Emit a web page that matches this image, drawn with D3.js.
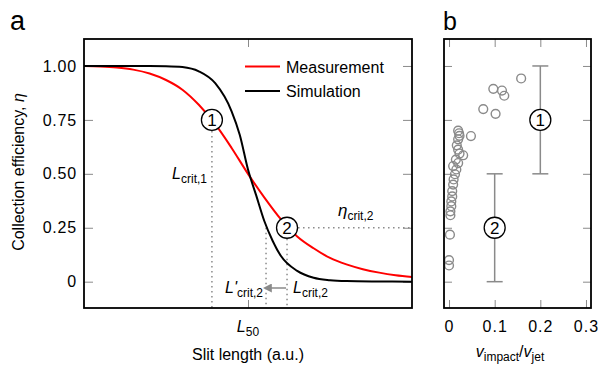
<!DOCTYPE html>
<html>
<head>
<meta charset="utf-8">
<script src="https://cdn.jsdelivr.net/npm/d3@7/dist/d3.min.js"></script>
<style>
  html, body { margin: 0; padding: 0; background: #fff; }
  svg text { font-family: "Liberation Sans", Arial, Helvetica, sans-serif; fill: #000; }
</style>
</head>
<body>
<svg id="fig" width="598" height="366"></svg>
<script>
// ---- Panel a: collection efficiency vs slit length (arbitrary units) ----
const slitLength   = [0, 0.5, 1, 1.5, 2, 2.5, 3, 3.5, 4, 4.5, 5, 5.5, 6, 6.5, 7, 7.5, 8, 8.5, 9, 9.5, 10];
const measurement  = [1.000, 0.998, 0.993, 0.983, 0.965, 0.935, 0.890, 0.820, 0.730, 0.620, 0.500, 0.390, 0.290, 0.210, 0.155, 0.110, 0.080, 0.058, 0.042, 0.030, 0.022];
const simLength    = [0, 1, 2, 2.5, 3, 3.5, 4, 4.5, 4.75, 5, 5.25, 5.5, 5.75, 6, 6.5, 7, 7.5, 8, 9, 10];
const simulation   = [1.000, 1.000, 1.000, 0.999, 0.995, 0.975, 0.920, 0.790, 0.680, 0.520, 0.400, 0.280, 0.190, 0.120, 0.050, 0.018, 0.007, 0.003, 0.001, 0.000];
const etaTicks     = [0, 0.25, 0.5, 0.75, 1];
const L50          = 5;
const Lcrit1       = 3.9;   // where measurement reaches eta = 0.75
const Lcrit2       = 6.19;  // where measurement reaches eta = 0.25
const LcritPrime2  = 5.55;  // where simulation reaches eta = 0.25
const etaCrit1     = 0.75;
const etaCrit2     = 0.25;

// ---- Panel b: efficiency vs impact/jet velocity ratio ----
const velocityTicks = [0, 0.1, 0.2, 0.3];
const velocityRatio = [0.158, 0.097, 0.116, 0.121, 0.075, 0.102, 0.048,
  0.020, 0.022, 0.023, 0.020, 0.017, 0.020, 0.023, 0.031, 0.015, 0.020, 0.009, 0.016, 0.013,
  0.010, 0.009, 0.007, 0.007, 0.005, 0.005, 0.003, 0.003,
  0.002, 0.000, 0.000];
const efficiencyB = [0.942, 0.894, 0.886, 0.862, 0.800, 0.778, 0.675,
  0.700, 0.688, 0.676, 0.660, 0.632, 0.612, 0.594, 0.586, 0.566, 0.550, 0.536, 0.520, 0.498,
  0.474, 0.450, 0.420, 0.395, 0.372, 0.350, 0.326, 0.308,
  0.218, 0.100, 0.075];
// regime ranges: [label, velocity ratio, eta low, eta mid, eta high]
const regimes = [["1", 0.2, 0.5, 0.75, 1.0], ["2", 0.1, 0.0, 0.25, 0.5]];

const svg = d3.select("#fig");
const grey = "#8a8a8a";

// shared vertical scale (both panels share the eta range)
const yA = d3.scaleLinear().domain([-0.122, 1.125]).range([308, 39]);
const xA = d3.scaleLinear().domain([0, 10]).range([84, 412]);
const xB = d3.scaleLinear().domain([-0.011, 0.311]).range([444, 591]);

svg.append("defs").append("marker")
  .attr("id", "arrowhead").attr("viewBox", "0 0 10 10")
  .attr("refX", 2).attr("refY", 5).attr("markerWidth", 6).attr("markerHeight", 6)
  .attr("orient", "auto")
  .append("path").attr("d", "M0,0 L10,5 L0,10 z").attr("fill", grey);

svg.append("defs").append("clipPath").attr("id", "clipA")
  .append("rect").attr("x", 84).attr("y", 39).attr("width", 328).attr("height", 269);

function styleTicks(g) {
  g.select(".domain").remove();
  g.selectAll(".tick line").attr("stroke", grey).attr("stroke-width", 1);
}

// subscripted label helper: italic main symbol + subscript
function subLabel(sel, main, sub, italicMain, size, subSize) {
  sel.append("tspan").attr("font-style", italicMain ? "italic" : "normal")
    .attr("font-size", size).text(main);
  sel.append("tspan").attr("font-size", subSize).attr("dy", 4).text(sub);
  return sel;
}

// ======== Panel a ========
const gA = svg.append("g");

gA.append("g").attr("transform", "translate(84,0)")
  .call(d3.axisLeft(yA).tickValues(etaTicks)
    .tickFormat(d => d === 0 ? "0" : d3.format(".2f")(d))
    .tickSizeInner(-9).tickSizeOuter(0).tickPadding(7))
  .call(styleTicks)
  .call(g => g.selectAll("text").attr("font-size", 16).attr("letter-spacing", 0.8)
    .style("font-family", "'Liberation Sans', Arial, sans-serif"));

gA.append("g").attr("transform", "translate(412,0)")
  .call(d3.axisRight(yA).tickValues(etaTicks).tickFormat("").tickSizeInner(-9).tickSizeOuter(0))
  .call(styleTicks);

gA.append("g").attr("transform", "translate(0,308)")
  .call(d3.axisBottom(xA).tickValues([L50]).tickFormat("").tickSizeInner(-8).tickSizeOuter(0))
  .call(styleTicks);
gA.append("g").attr("transform", "translate(0,39)")
  .call(d3.axisTop(xA).tickValues([L50]).tickFormat("").tickSizeInner(-8).tickSizeOuter(0))
  .call(styleTicks);

// dotted guides
const dotted = (x1, y1, x2, y2) => gA.append("line")
  .attr("x1", x1).attr("y1", y1).attr("x2", x2).attr("y2", y2)
  .attr("stroke", grey).attr("stroke-width", 1.5).attr("stroke-dasharray", "1.5,3.5");
dotted(xA(Lcrit1), yA(etaCrit1) + 11, xA(Lcrit1), 308);
dotted(xA(Lcrit2), yA(etaCrit2) + 11, xA(Lcrit2), 308);
dotted(xA(LcritPrime2), yA(etaCrit2), xA(LcritPrime2), 308);
dotted(xA(Lcrit2) + 11, yA(etaCrit2), 412, yA(etaCrit2));

// curves
const curves = gA.append("g").attr("clip-path", "url(#clipA)");
const lineA = d3.line().curve(d3.curveMonotoneX);
curves.append("path")
  .attr("d", lineA(slitLength.map((l, i) => [xA(l), yA(measurement[i])])))
  .attr("fill", "none").attr("stroke", "#ff0000").attr("stroke-width", 2);
curves.append("path")
  .attr("d", lineA(simLength.map((l, i) => [xA(l), yA(simulation[i])])))
  .attr("fill", "none").attr("stroke", "#000").attr("stroke-width", 2);

// arrow from L_crit,2 to L'_crit,2
gA.append("line")
  .attr("x1", xA(Lcrit2) - 1).attr("y1", 288)
  .attr("x2", xA(LcritPrime2) + 4).attr("y2", 288)
  .attr("stroke", grey).attr("stroke-width", 1.5).attr("marker-end", "url(#arrowhead)");

// numbered markers
function numbered(g, cx, cy, label) {
  g.append("circle").attr("cx", cx).attr("cy", cy).attr("r", 10.5)
    .attr("fill", "#fff").attr("stroke", "#000").attr("stroke-width", 1.3);
  g.append("text").attr("x", cx).attr("y", cy + 6).attr("text-anchor", "middle")
    .attr("font-size", 17).text(label);
}
numbered(gA, xA(Lcrit1), yA(etaCrit1), "1");
numbered(gA, xA(Lcrit2), yA(etaCrit2), "2");

// frame
gA.append("rect").attr("x", 84).attr("y", 39).attr("width", 328).attr("height", 269)
  .attr("fill", "none").attr("stroke", "#000").attr("stroke-width", 1.8);

// legend
const legend = [["Measurement", "#ff0000", 66.5], ["Simulation", "#000", 91]];
legend.forEach(([name, col, y]) => {
  gA.append("line").attr("x1", 245).attr("x2", 280).attr("y1", y).attr("y2", y)
    .attr("stroke", col).attr("stroke-width", 2);
  gA.append("text").attr("x", 286).attr("y", y + 6).attr("font-size", 16).text(name);
});

// annotation labels
subLabel(gA.append("text").attr("x", 207).attr("y", 179).attr("text-anchor", "end"),
  "L", "crit,1", true, 16, 12);
subLabel(gA.append("text").attr("x", 338).attr("y", 216),
  "\u03B7", "crit,2", true, 17, 12);
subLabel(gA.append("text").attr("x", 263).attr("y", 293).attr("text-anchor", "end"),
  "L'", "crit,2", true, 16, 12);
subLabel(gA.append("text").attr("x", 293).attr("y", 293),
  "L", "crit,2", true, 16, 12);
subLabel(gA.append("text").attr("x", xA(L50)).attr("y", 332).attr("text-anchor", "middle"),
  "L", "50", true, 16, 12);

gA.append("text").attr("x", 248).attr("y", 360).attr("text-anchor", "middle")
  .attr("font-size", 16).text("Slit length (a.u.)");

const yLab = gA.append("text").attr("transform", "translate(24,172) rotate(-90)")
  .attr("text-anchor", "middle").attr("font-size", 16);
yLab.append("tspan").text("Collection efficiency, ");
yLab.append("tspan").attr("font-style", "italic").text("\u03B7");

svg.append("text").attr("x", 10).attr("y", 30).attr("font-size", 27).text("a");

// ======== Panel b ========
const gB = svg.append("g");

gB.append("g").attr("transform", "translate(444,0)")
  .call(d3.axisLeft(yA).tickValues(etaTicks).tickFormat("").tickSizeInner(-8).tickSizeOuter(0))
  .call(styleTicks);
gB.append("g").attr("transform", "translate(591,0)")
  .call(d3.axisRight(yA).tickValues(etaTicks).tickFormat("").tickSizeInner(-8).tickSizeOuter(0))
  .call(styleTicks);
gB.append("g").attr("transform", "translate(0,39)")
  .call(d3.axisTop(xB).tickValues(velocityTicks).tickFormat("").tickSizeInner(-8).tickSizeOuter(0))
  .call(styleTicks);
gB.append("g").attr("transform", "translate(0,308)")
  .call(d3.axisBottom(xB).tickValues(velocityTicks)
    .tickFormat(d => d === 0 ? "0" : d3.format(".1f")(d))
    .tickSizeInner(-8).tickSizeOuter(0).tickPadding(13))
  .call(styleTicks)
  .call(g => g.selectAll("text").attr("font-size", 16).attr("letter-spacing", 1)
    .style("font-family", "'Liberation Sans', Arial, sans-serif"));

// scatter
gB.append("g").selectAll("circle")
  .data(velocityRatio.map((v, i) => [v, efficiencyB[i]]))
  .join("circle")
  .attr("cx", d => xB(d[0])).attr("cy", d => yA(d[1])).attr("r", 4.4)
  .attr("fill", "none").attr("stroke", grey).attr("stroke-width", 1.4);

// regime ranges
regimes.forEach(([label, v, lo, mid, hi]) => {
  const x = xB(v);
  gB.append("line").attr("x1", x).attr("x2", x).attr("y1", yA(lo)).attr("y2", yA(hi))
    .attr("stroke", grey).attr("stroke-width", 1.5);
  [lo, hi].forEach(e => gB.append("line")
    .attr("x1", x - 8).attr("x2", x + 8).attr("y1", yA(e)).attr("y2", yA(e))
    .attr("stroke", grey).attr("stroke-width", 1.5));
  numbered(gB, x, yA(mid), label);
});

gB.append("rect").attr("x", 444).attr("y", 39).attr("width", 147).attr("height", 269)
  .attr("fill", "none").attr("stroke", "#000").attr("stroke-width", 1.8);

const xLabB = gB.append("text").attr("x", 510).attr("y", 357).attr("text-anchor", "middle")
  .attr("font-size", 16);
xLabB.append("tspan").attr("font-style", "italic").text("v");
xLabB.append("tspan").attr("font-size", 12).attr("dy", 4).text("impact");
xLabB.append("tspan").attr("dy", -4).text("/");
xLabB.append("tspan").attr("font-style", "italic").text("v");
xLabB.append("tspan").attr("font-size", 12).attr("dy", 4).text("jet");

svg.append("text").attr("x", 443).attr("y", 30).attr("font-size", 25).text("b");
</script>
</body>
</html>
